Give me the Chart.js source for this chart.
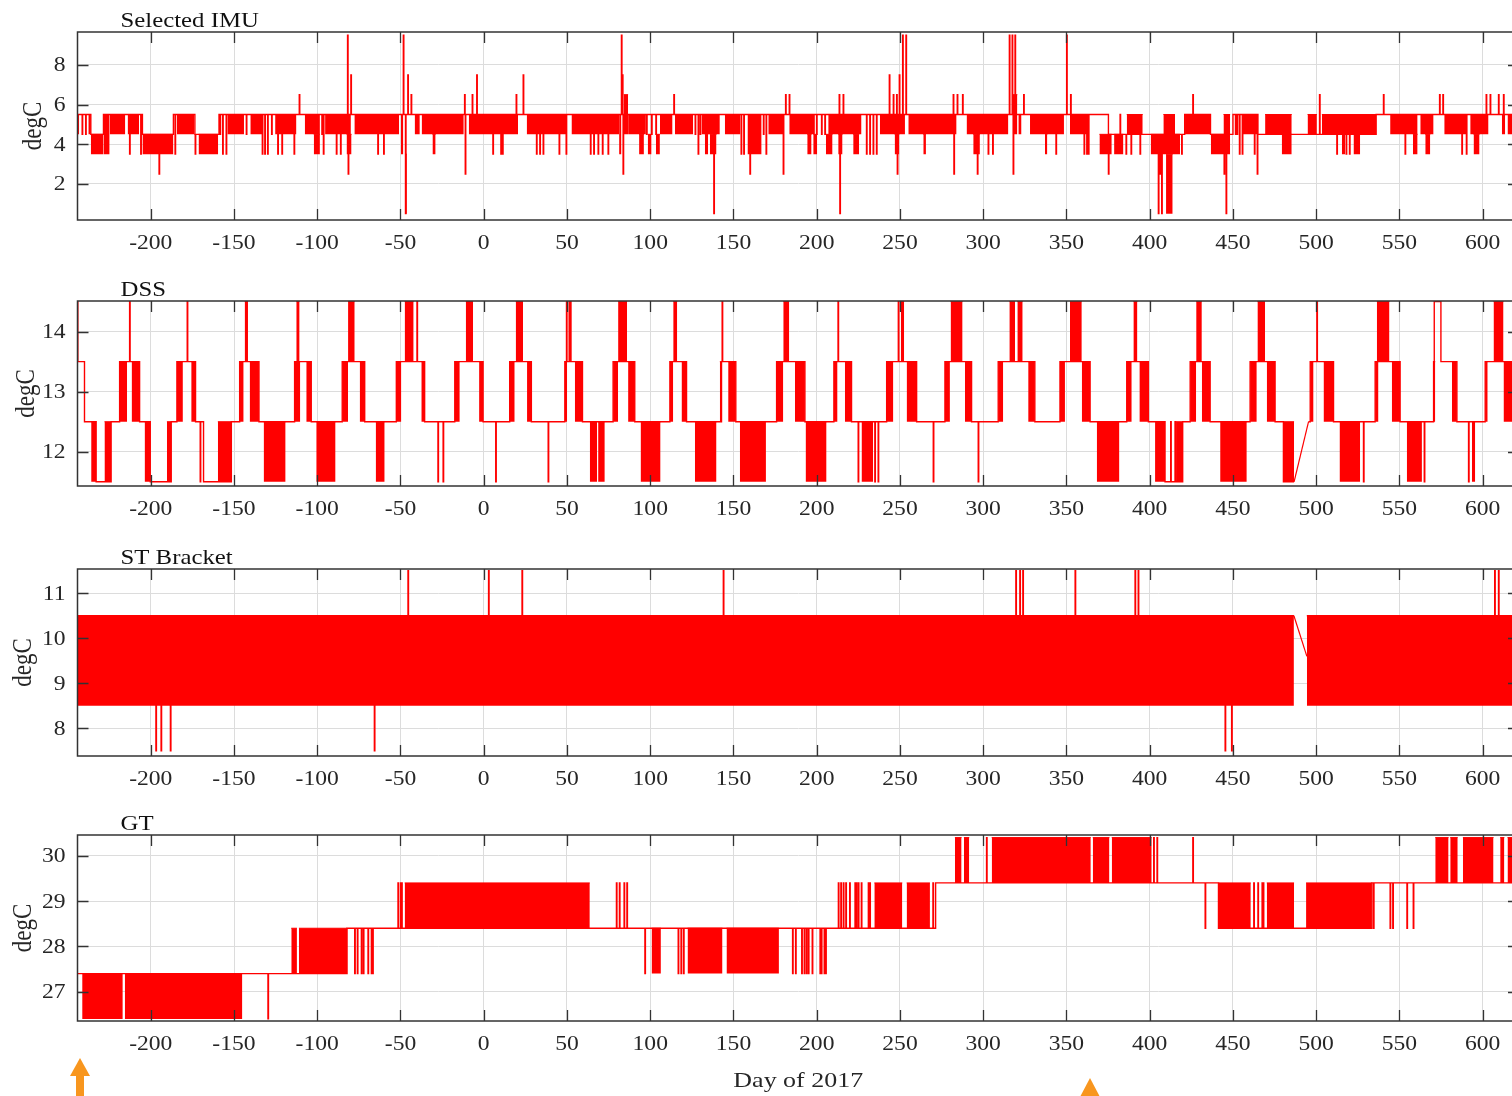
<!DOCTYPE html>
<html><head><meta charset="utf-8">
<script src="https://cdn.jsdelivr.net/npm/chart.js@4.4.1/dist/chart.umd.min.js"></script>
<style>
html,body{margin:0;padding:0;background:#fff;}
body{position:relative;width:1512px;height:1096px;overflow:hidden;}
canvas{position:absolute;left:0;}
svg{position:absolute;left:0;top:0;}
</style></head><body>
<canvas id="p1" width="1519" height="260" style="top:0px"></canvas>
<canvas id="p2" width="1519" height="257" style="top:269px"></canvas>
<canvas id="p3" width="1519" height="259" style="top:537px"></canvas>
<canvas id="p4" width="1519" height="293" style="top:803px"></canvas>
<svg width="1512" height="1096">
  <polygon points="70,1076 80,1058 90,1076" fill="#f8961e"/>
  <rect x="76" y="1075" width="8" height="21" fill="#f8961e"/>
  <polygon points="1080,1097 1090,1078 1100,1097" fill="#f8961e"/>
</svg>
<script>
// ---------------- data ----------------
const xTicks = [-200,-150,-100,-50,0,50,100,150,200,250,300,350,400,450,500,550,600];
const xMin = -244, xMax = 621.8;

const panelTitles = ['Selected IMU', 'DSS', 'ST Bracket', 'GT'];
const xTitle = 'Day of 2017';
const yTitle = 'degC';

// Selected IMU
const imuTicks = [2,4,6,8];
const imuLevels = [[-245,5.5],[-236,4.5],[-228.4,5.5],[-205,4.5],[-186.4,5.5],[-173.5,4.5],[-159,5.5],[363.5,4.5],[421,5.5],[436.5,4.5],[450,5.5],[465,4.5],[536,5.5],[630,5.5]];
const imuSpikes = [[-241.2,4.5],[-239.1,4.5],[-212.7,3.5],[-206,3.5],[-195,2.5],[-185.4,3.5],[-173.3,3.5],[-158.4,4.5],[-156.8,3.5],[-154.7,3.5],
 [-142.6,4.5],[-133,3.5],[-131.5,3.5],[-129.8,3.5],[-127.4,4.5],[-123.7,3.5],[-121.2,3.5],[-113.9,3.5],[-110.8,6.5],[-97.2,4.5],[-96.3,3.5],
 [-88.5,3.5],[-86,3.5],[-81.8,9.5],[-81.4,2.5],[-79.8,7.5],[-63.6,3.5],[-60.1,3.5],[-48.3,9.5],[-47,0.5],[-45.6,7.5],[-43.6,6.5],
 [-11.5,6.5],[-11.1,2.5],[-6.9,6.5],[-4.2,7.5],[5.5,3.5],[10.3,3.5],[11.3,3.5],[19.5,6.5],[23.7,7.5],
 [31.7,3.5],[33.7,3.5],[35.7,3.5],[45.3,3.5],[49.5,3.5],[64.1,3.5],[66.1,3.5],[68.7,3.5],[71.3,3.5],[74.7,3.5],[82.7,9.5],[83.3,7.5],[83.7,2.5],
 [97.8,4.5],[100.8,4.5],[103.4,4.5],[114.2,6.5],[127,4.5],[128.8,3.5],[130,4.5],[138.2,0.5],[154.6,3.5],[156.2,3.5],[159.9,2.5],[168,4.5],[169.6,3.5],
 [179.9,2.5],[181.3,6.5],[183.5,6.5],[199.9,4.5],[202.9,4.5],[204.9,4.5],[213.5,6.5],[213.9,0.5],[215.9,6.5],[229.9,3.5],[231.9,3.5],[233.9,3.5],[235.9,3.5],
 [243.6,7.5],[246,6.5],[248,6.5],[248.4,2.5],[249.6,7.5],[251.6,9.5],[253.6,9.5],[282,6.5],[282.4,2.5],[284.4,6.5],[287.6,6.5],[296.5,2.5],[303,3.5],[305.7,3.5],
 [315.7,9.5],[317.4,9.5],[318,2.5],[319.1,9.5],[324.3,6.5],
 [343.7,3.5],[350.1,9.5],[352.5,6.5],[360.6,3.5],[362.2,3.5],[363.2,3.5],[375.2,2.5],[382.2,5.5],[385.8,3.5],[388.8,3.5],[394.2,3.5],
 [405.2,0.5],[406.2,2.5],[407.2,0.5],[419.2,3.5],[425.9,6.5],[444.7,2.5],[445.9,0.5],[451.5,4.5],[452.5,4.5],[453.9,3.5],[455.6,3.5],[462.9,3.5],[464.6,2.5],
 [502,6.5],[512.4,3.5],[518,3.5],[520,3.5],[540.4,6.5],[553.4,3.5],[574.1,6.5],[576.1,6.5],[587.5,3.5],[590.2,3.5],[602.1,6.5],[604.5,6.5],[609.5,6.5],[612.5,6.5]];
const imuBands = [[-245,-243,4.5,5.5],[-237.5,-236,4.5,5.5],[-236,-228.4,3.5,4.5],[-228.4,-224.7,3.5,5.5],[-224.7,-215.3,4.5,5.5],[-213.9,-207,4.5,5.5],
 [-205,-186.4,3.5,4.5],[-184.3,-174,4.5,5.5],[-171.3,-159.5,3.5,4.5],[-154,-144,4.5,5.5],[-140.2,-132.6,4.5,5.5],[-125.3,-112.5,4.5,5.5],
 [-107.5,-98.4,4.5,5.5],[-102.1,-98.4,3.5,4.5],[-95.3,-79.8,4.5,5.5],[-82.4,-79.4,3.5,4.5],[-77.7,-50.8,4.5,5.5],[-49.7,-48.3,3.5,5.5],
 [-47.2,-46.2,0.5,3.5],[-41.5,-38.4,4.5,5.5],[-37.3,-12,4.5,5.5],[-30.8,-28.9,3.5,4.5],[-9,20.6,4.5,5.5],[25.8,49.7,4.5,5.5],[52.7,81.3,4.5,5.5],
 [81.3,82.7,3.5,5.5],[84.1,86.7,4.5,6.5],[86.7,97.4,4.5,5.5],[93.3,96.2,3.5,4.5],[98.5,100.8,3.5,4.5],[103.4,105.8,3.5,4.5],[105.8,113.4,4.5,5.5],
 [114.8,125.8,4.5,5.5],[130.8,141.8,4.5,5.5],[132.8,134.8,3.5,4.5],[135.8,139.8,3.5,4.5],[144.8,154.2,4.5,5.5],[158.4,166.9,3.5,5.5],
 [170.9,179.9,4.5,5.5],[183.5,198.9,4.5,5.5],[194.3,196.9,3.5,4.5],[197.9,200.3,3.5,4.5],[206.9,226.9,4.5,5.5],[205.5,209.5,3.5,4.5],
 [212.9,215.5,3.5,4.5],[221.9,225.5,3.5,4.5],[237.9,253,4.5,5.5],[246.8,249.6,3.5,4.5],[255,284,4.5,5.5],[264,265.6,3.5,4.5],
 [290,315.1,4.5,5.5],[294,298,3.5,4.5],[317.7,320.5,4.5,6.5],[321.1,323,4.5,5.5],[328.1,348.5,4.5,5.5],[337.1,338.5,3.5,4.5],
 [352.1,363.2,4.5,5.5],[369.8,377.2,3.5,4.5],[378.6,384.2,3.5,4.5],[386.2,395.8,4.5,5.5],[400.6,418.2,3.5,4.5],[408.2,415.2,4.5,5.5],
 [409.8,413.8,0.5,3.5],[421.2,436.3,4.5,5.5],[436.7,448.3,3.5,4.5],[444.3,448.3,4.5,5.5],[455.9,465,4.5,5.5],[469.3,485.3,4.5,5.5],
 [479.3,485.3,3.5,4.5],[494.8,500.4,4.5,5.5],[503.4,536,4.5,5.5],[515.4,517.4,3.5,4.5],[522.4,526.4,3.5,4.5],[544.4,560.9,4.5,5.5],
 [558.1,560.9,3.5,4.5],[562.5,570.5,4.5,5.5],[565.5,568.5,3.5,4.5],[576.9,590.5,4.5,5.5],[592.5,603.5,4.5,5.5],[594.5,598.1,3.5,4.5],
 [611.5,613.5,4.5,5.5],[614.9,624,4.5,5.5]];

// DSS
const dssTicks = [12,13,14];
const dssLevels = [[-244.6,14.5],[-243.8,13.5],[-239.8,12.5],[-232.8,11.5],[-223.8,12.5],[-218.7,13.5],[-206.7,12.5],[-200.3,11.5],[-187.7,12.5],
 [-184.3,13.5],[-173.1,12.5],[-168.3,11.5],[-151.6,12.5],[-146.6,13.5],[-135,12.5],[-113.6,13.5],[-103.6,12.5],[-85,13.5],[-71.5,12.5],
 [-52.5,13.5],[-35.5,12.5],[-17.4,13.5],[-0.4,12.5],[15.6,13.5],[28.6,12.5],[48.7,13.5],[59.3,12.5],[77.7,13.5],[90.7,12.5],[111.8,13.5],
 [121.8,12.5],[142.8,13.5],[151.4,12.5],[175.9,13.5],[192.9,12.5],[210.3,13.5],[220.9,12.5],[242,13.5],[260,12.5],[277,13.5],[293,12.5],
 [309,13.5],[331,12.5],[346.1,13.5],[364.2,12.5],[386.2,13.5],[399.2,12.5],[409.2,11.5],[419.8,12.5],[424.3,13.5],[436.3,12.5],[460.3,13.5],
 [475.3,12.5],[480.3,11.5],[486.7,11.5],[490,null],[495.4,12.5],[496.4,13.5],[510.4,12.5],[535.4,13.5],[550.4,12.5],[570.5,13.5],[570.9,14.5],
 [574.9,13.5],[584.5,12.5],[601.5,13.5],[618,12.5],[630,12.5]];
const dssSpikes = [[-212.7,14.5],[-178.1,14.5],[-170.3,11.5],[-40.1,14.5],[-27.5,11.5],[-24.4,11.5],[7.2,11.5],[38.7,11.5],[49.7,14.5],[51.3,14.5],
 [52.1,14.5],[143.2,14.5],[212.8,14.5],[224.9,11.5],[234.9,11.5],[236.9,11.5],[249,14.5],[270,11.5],[297,11.5],[412.6,12.5],[415.2,12.5],
 [500.4,14.5],[528.4,11.5],[564.9,11.5],[591.5,11.5]];
const dssGap = [[486.7,11.5],[495.4,12.5]];
const dssBands = [[-235.8,-232.8,11.5,12.5],[-227.8,-223.8,11.5,12.5],[-218.7,-214.2,12.5,13.5],[-211.5,-206.7,12.5,13.5],[-203.7,-200.3,11.5,12.5],
 [-190.3,-187.7,11.5,12.5],[-184.3,-180.7,12.5,13.5],[-175.7,-173.1,12.5,13.5],[-159.7,-151.6,11.5,12.5],[-146.6,-144.2,12.5,13.5],
 [-143.6,-141.6,13.5,14.5],[-140.6,-135,12.5,13.5],[-132.2,-119,11.5,12.5],[-113.6,-110.2,12.5,13.5],[-112.6,-110.6,13.5,14.5],
 [-106.6,-103.6,12.5,13.5],[-100.6,-89,11.5,12.5],[-85,-81.5,12.5,13.5],[-81.5,-77.5,13.5,14.5],[-74.5,-71.5,12.5,13.5],[-64.9,-59.5,11.5,12.5],
 [-52.5,-49.5,12.5,13.5],[-47.5,-42.1,13.5,14.5],[-37.5,-35.5,12.5,13.5],[-17.4,-14.4,12.5,13.5],[-10.8,-6.4,13.5,14.5],[-2.8,-0.4,12.5,13.5],
 [15.6,18.6,12.5,13.5],[19.2,23.6,13.5,14.5],[26,28.6,12.5,13.5],[48.7,50.1,12.5,13.5],[54.7,59.3,12.5,13.5],[63.7,68.1,11.5,12.5],
 [68.7,72.7,11.5,12.5],[77.7,80.7,12.5,13.5],[80.7,86.1,13.5,14.5],[86.7,90.7,12.5,13.5],[94.2,106.2,11.5,12.5],[111.8,113.8,12.5,13.5],
 [113.8,116.2,13.5,14.5],[118.8,121.8,12.5,13.5],[126.8,139.8,11.5,12.5],[141.8,143.2,12.5,13.5],[146.8,151.4,12.5,13.5],[153.8,169.5,11.5,12.5],
 [175.9,179.9,12.5,13.5],[179.9,183.5,13.5,14.5],[186.9,192.9,12.5,13.5],[193.3,205.9,11.5,12.5],[210.3,212.5,12.5,13.5],[216.9,220.9,12.5,13.5],
 [226.9,233.9,11.5,12.5],[242,246,12.5,13.5],[250.5,252.5,13.5,14.5],[254,260,12.5,13.5],[277,280,12.5,13.5],[280.4,287.6,13.5,14.5],
 [289,293,12.5,13.5],[309,312,12.5,13.5],[315.7,319.1,13.5,14.5],[320.5,323.7,13.5,14.5],[327,331,12.5,13.5],[346.1,349.1,12.5,13.5],
 [352.1,359.2,13.5,14.5],[359.2,364.2,12.5,13.5],[368.2,381.8,11.5,12.5],[386.2,389.2,12.5,13.5],[390.2,392.6,13.5,14.5],[393.8,399.2,12.5,13.5],
 [403.2,409.2,11.5,12.5],[415.8,419.8,11.5,12.5],[424.3,427.9,12.5,13.5],[427.9,431.3,13.5,14.5],[431.3,436.3,12.5,13.5],[442.3,458.3,11.5,12.5],
 [460.3,464.3,12.5,13.5],[464.7,469.3,13.5,14.5],[470.3,475.3,12.5,13.5],[480.3,486.7,11.5,12.5],[496.4,498.4,12.5,13.5],[504.4,510.4,12.5,13.5],
 [514,526.4,11.5,12.5],[535.4,537.4,12.5,13.5],[536.4,544,13.5,14.5],[545.4,550.4,12.5,13.5],[554.4,563.5,11.5,12.5],[570.5,571.5,12.5,13.5],
 [581.5,584.5,12.5,13.5],[593.5,595.5,11.5,12.5],[601.5,603,12.5,13.5],[606.5,612.5,13.5,14.5],[612.5,618,12.5,13.5]];

// ST Bracket
const stTicks = [8,9,10,11];
const stLevels = [[-244.5,10.5],[486.6,10.5],[490,null],[494.4,10.5],[630,10.5]];
const stSpikes = [[-196.9,7.5],[-193.8,7.5],[-188.2,7.5],[-65.7,7.5],[-45.5,11.5],[2.9,11.5],[23,11.5],[143.9,11.5],[319.6,11.5],[322,11.5],
 [323.8,11.5],[355.2,11.5],[391.2,11.5],[393.1,11.5],[445.3,7.5],[449.2,7.5],[607.2,11.5],[609.5,11.5]];
const stGap = [[486.6,10.5],[494.4,9.6]];
const stBands = [[-244.5,486.6,8.5,10.5],[494.4,624,8.5,10.5]];

// GT
const gtTicks = [27,28,29,30];
const gtLevels = [[-244.5,27.4],[-82.1,28.4],[271.4,29.4],[441.3,28.4],[533.4,29.4],[630,29.4]];
const gtSpikes = [[-129.6,26.4],[-77.5,27.4],[-75.9,27.4],[-73.5,27.4],[-72.3,27.4],[-69.5,27.4],[-67.5,27.4],[-66.7,27.4],[-51.5,29.4],[-50,29.4],
 [-49.3,29.4],[79.7,29.4],[81.5,29.4],[84.3,29.4],[86,29.4],[96.8,27.4],[116.8,27.4],[118.5,27.4],[120,27.4],[185.5,27.4],[187.3,27.4],
 [191,27.4],[192.5,27.4],[193.8,27.4],[195,27.4],[197.3,27.4],[202,27.4],[202.8,27.4],[204.5,27.4],[205.4,27.4],[213,29.4],[214.5,29.4],
 [216,29.4],[217.5,29.4],[219.8,29.4],[223,29.4],[223.8,29.4],[225,29.4],[226.8,29.4],[231,29.4],[231.9,29.4],[269.8,29.4],[302,30.4],
 [402.4,30.4],[404.4,30.4],[425.9,30.4],[433.3,28.4],[462.5,29.4],[465,29.4],[467.5,29.4],[468.2,29.4],[534.4,28.4],[544.4,28.4],[546,28.4],
 [554.5,28.4],[558.3,28.4]];
const gtBands = [[-241.2,-216.8,26.4,27.4],[-215.6,-145,26.4,27.4],[-115.6,-112.2,27.4,28.4],[-111,-82.1,27.4,28.4],[-47.5,63.7,28.4,29.4],
 [100.8,106.4,27.4,28.4],[122.4,143.4,27.4,28.4],[145.8,177.3,27.4,28.4],[234.6,251.4,28.4,29.4],[254,268,28.4,29.4],[283,287,29.4,30.4],
 [288.4,291.6,29.4,30.4],[305.1,364.6,29.4,30.4],[365.8,375.8,29.4,30.4],[377.2,401.2,29.4,30.4],[441.3,460.7,28.4,29.4],[470.3,486.7,28.4,29.4],
 [493.9,533.4,28.4,29.4],[571.5,579.5,29.4,30.4],[580.5,585,29.4,30.4],[588.1,606.5,29.4,30.4],[610.5,613,29.4,30.4],[614.9,624,29.4,30.4]];

// ---------------- rendering ----------------
const RED = '#ff0000';
const FONT = '"Liberation Serif", "Times New Roman", Times, serif';
const TXT = '#262626';
const GRID = '#dcdcdc';
const TL = 11;      // inner tick length
const SX = 1.18;    // horizontal text stretch of the reference figure

function buildTrace(levels, spikes) {
  const pts = levels.map(l => ({x: l[0], y: l[1]}));
  spikes.forEach(s => {
    let base = null;
    for (const l of levels) { if (l[0] <= s[0] && l[1] !== null) base = l[1]; }
    pts.push({x: s[0], y: s[1]}, {x: s[0] + 0.3, y: base});
  });
  pts.sort((a, b) => a.x - b.x);
  return pts;
}

function sText(ctx, txt, x, y, align, size, color, rot) {
  ctx.save();
  ctx.translate(x, y);
  ctx.scale(SX, 1);
  if (rot) ctx.rotate(rot);
  ctx.font = size + 'px ' + FONT;
  ctx.fillStyle = color;
  ctx.textAlign = align;
  ctx.textBaseline = rot ? 'middle' : 'alphabetic';
  ctx.fillText(txt, 0, 0);
  ctx.restore();
}

const frame = {
  id: 'frame',
  afterDraw(chart, args, opts) {
    const {ctx, chartArea: a} = chart;
    const x = chart.scales.x, y = chart.scales.y;
    ctx.save();
    ctx.strokeStyle = '#333333';
    ctx.lineWidth = 1.3;
    ctx.beginPath();
    x.ticks.forEach(t => {
      const px = Math.round(x.getPixelForValue(t.value)) + 0.5;
      ctx.moveTo(px, a.top); ctx.lineTo(px, a.top + TL);
      ctx.moveTo(px, a.bottom); ctx.lineTo(px, a.bottom - TL);
    });
    y.ticks.forEach(t => {
      const py = Math.round(y.getPixelForValue(t.value)) + 0.5;
      ctx.moveTo(a.left, py); ctx.lineTo(a.left + TL, py);
      ctx.moveTo(a.right, py); ctx.lineTo(a.right - TL, py);
    });
    ctx.stroke();
    ctx.lineWidth = 1.5;
    ctx.strokeRect(a.left, a.top, a.right - a.left, a.bottom - a.top);
    ctx.restore();
    // texts
    x.ticks.forEach(t => sText(ctx, String(t.value), x.getPixelForValue(t.value), a.bottom + 29, 'center', 20, TXT));
    y.ticks.forEach(t => sText(ctx, String(t.value), a.left - 12, y.getPixelForValue(t.value) + 6.5, 'right', 20, TXT));
    sText(ctx, opts.yTitle, opts.yTitleX, (a.top + a.bottom) / 2, 'center', 23, TXT, -Math.PI / 2);
    sText(ctx, opts.title, a.left + 43, a.top - 5, 'left', 21, '#111');
    if (opts.xTitle) sText(ctx, opts.xTitle, (a.left + a.right) / 2, a.bottom + 66, 'center', 22, TXT);
  }
};

function makePanel(id, cfg) {
  const datasets = [];
  datasets.push({data: buildTrace(cfg.levels, cfg.spikes), stepped: true, borderColor: RED, borderWidth: 1.4,
    pointRadius: 0, fill: false, spanGaps: false, clip: 0});
  if (cfg.gap) datasets.push({data: cfg.gap.map(p => ({x: p[0], y: p[1]})), borderColor: RED, borderWidth: 1.2,
    pointRadius: 0, fill: false, clip: 0});
  cfg.bands.forEach(b => datasets.push({data: [{x: b[0], y: b[3]}, {x: b[1], y: b[3]}], borderColor: RED, borderWidth: 1,
    backgroundColor: RED, fill: {value: b[2]}, pointRadius: 0, clip: 0}));
  new Chart(document.getElementById(id), {
    type: 'line',
    data: {datasets},
    options: {
      responsive: false, animation: false, events: [], devicePixelRatio: 1,
      layout: {padding: {top: 32, left: 0, right: 0, bottom: 0}},
      plugins: {legend: {display: false}, tooltip: {enabled: false},
        frame: {title: cfg.title, yTitle: yTitle, yTitleX: cfg.yTitleX, xTitle: cfg.xTitle}},
      scales: {
        x: {type: 'linear', min: xMin, max: xMax,
          afterBuildTicks: s => { s.ticks = xTicks.map(v => ({value: v})); },
          afterFit: s => { s.height = cfg.xH; },
          grid: {color: GRID, drawTicks: false, lineWidth: 1},
          border: {display: false},
          ticks: {display: false}
        },
        y: {type: 'linear', min: cfg.yMin, max: cfg.yMax,
          afterBuildTicks: s => { s.ticks = cfg.yTicks.map(v => ({value: v})); },
          afterFit: s => { s.width = 77.5; },
          grid: {color: GRID, drawTicks: false, lineWidth: 1},
          border: {display: false},
          ticks: {display: false}
        }
      }
    },
    plugins: [frame]
  });
}

makePanel('p1', {title: panelTitles[0], levels: imuLevels, spikes: imuSpikes, bands: imuBands, yTicks: imuTicks, yMin: 0.18, yMax: 9.66, xH: 40, yTitleX: 34});
makePanel('p2', {title: panelTitles[1], levels: dssLevels, spikes: dssSpikes, bands: dssBands, gap: dssGap, yTicks: dssTicks, yMin: 11.43, yMax: 14.51, xH: 40, yTitleX: 27});
makePanel('p3', {title: panelTitles[2], levels: stLevels, spikes: stSpikes, bands: stBands, gap: stGap, yTicks: stTicks, yMin: 7.385, yMax: 11.54, xH: 40, yTitleX: 24});
makePanel('p4', {title: panelTitles[3], levels: gtLevels, spikes: gtSpikes, bands: gtBands, yTicks: gtTicks, yMin: 26.354, yMax: 30.457, xH: 75, xTitle: xTitle, yTitleX: 24});
</script></body></html>
